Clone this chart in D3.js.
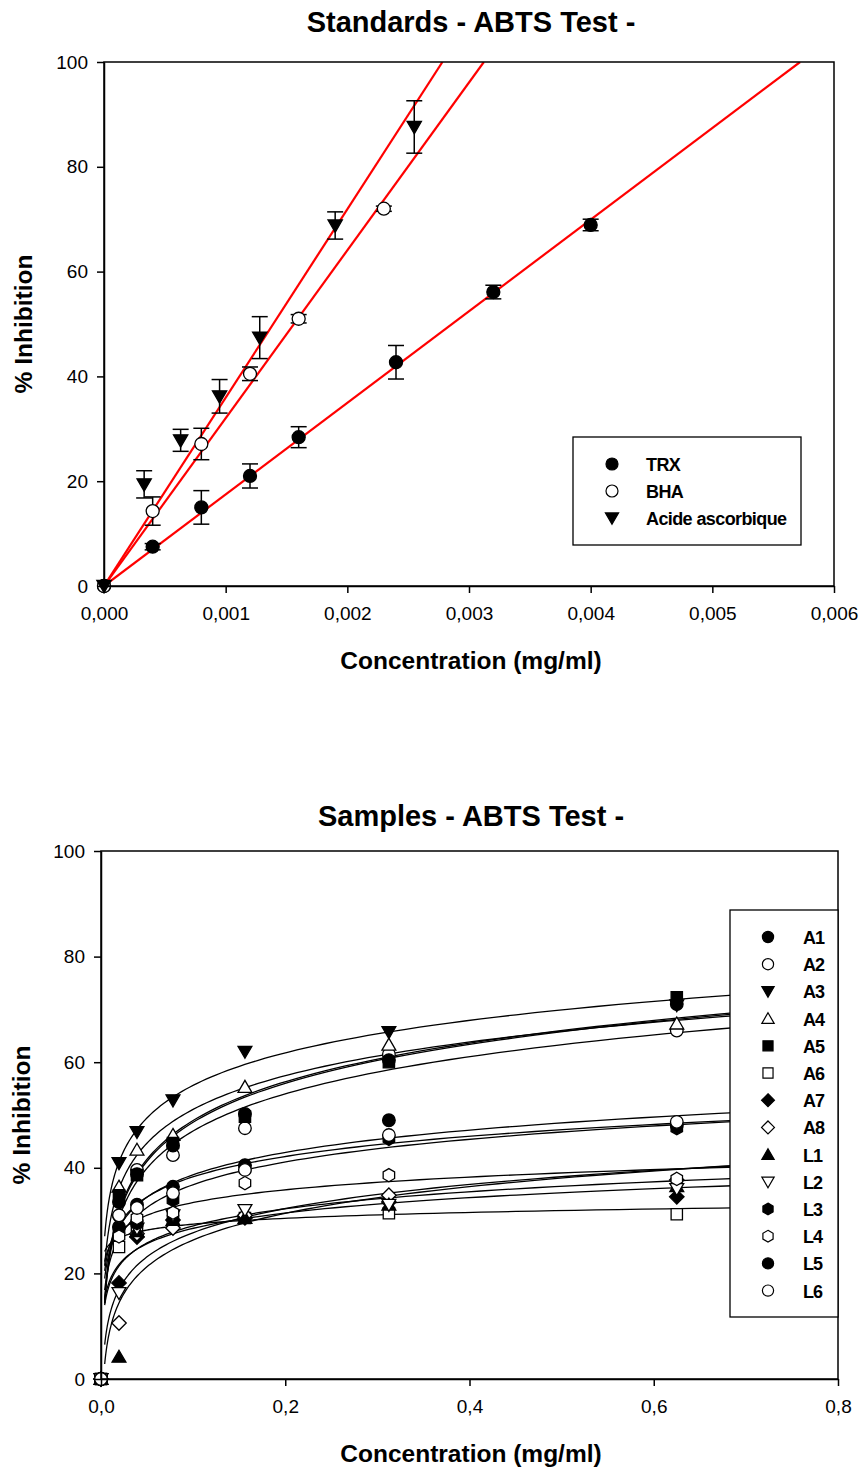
<!DOCTYPE html>
<html>
<head>
<meta charset="utf-8">
<script src="https://cdn.jsdelivr.net/npm/d3@7"></script>
<style>
  body { margin: 0; background: #fff; }
  svg { display: block; font-family: Arial, "Liberation Sans", sans-serif; }
</style>
</head>
<body>
<svg id="chart" width="864" height="1469"></svg>
<script>
// ---------- Standards (ABTS) ----------
const stdNames = ["TRX", "BHA", "Acide ascorbique"];
const trxConc = [0, 0.0004, 0.0008, 0.0012, 0.0016, 0.0024, 0.0032, 0.0040];
const trxInh  = [0, 7.5, 15.0, 21.0, 28.4, 42.7, 56.1, 68.9];
const trxErr  = [0, 0.6, 3.2, 2.3, 2.0, 3.2, 1.3, 1.1];
const bhaConc = [0, 0.0004, 0.0008, 0.0012, 0.0016, 0.0023];
const bhaInh  = [0, 14.3, 27.1, 40.5, 51.0, 72.0];
const bhaErr  = [0, 2.7, 3.0, 1.3, 0.8, 0.5];
const ascConc = [0, 0.00033, 0.00063, 0.00095, 0.00128, 0.0019, 0.00255];
const ascInh  = [0, 19.4, 27.8, 36.2, 47.4, 68.8, 87.6];
const ascErr  = [0, 2.6, 2.1, 3.2, 4.0, 2.6, 5.0];
const stdTicksX = [0, 0.001, 0.002, 0.003, 0.004, 0.005, 0.006];
const ticksY = [0, 20, 40, 60, 80, 100];

// ---------- Samples (ABTS) ----------
const sampleConc = [0, 0.01953, 0.03906, 0.07813, 0.15625, 0.3125, 0.625];
const sampleNames = ["A1","A2","A3","A4","A5","A6","A7","A8","L1","L2","L3","L4","L5","L6"];
const A1 = [0, 28.8, 33.0, 36.4, 40.5, 49.0, 48.0];
const A2 = [0, 30.9, 39.6, 42.4, 47.5, 61.5, 66.0];
const A3 = [0, 40.9, 46.8, 52.8, 62.0, 65.7, 70.8];
const A4 = [0, 36.4, 43.4, 46.2, 55.3, 63.3, 67.3];
const A5 = [0, 34.8, 38.6, 44.7, 49.7, 60.0, 72.3];
const A6 = [0, 25.0, 29.0, 29.8, 30.5, 31.4, 31.2];
const A7 = [0, 18.2, 26.9, 30.1, 30.5, 33.5, 34.5];
const A8 = [0, 10.6, 27.5, 28.6, 31.0, 34.8, 37.7];
const L1 = [0, 4.2, 28.0, 30.1, 30.5, 33.0, 36.5];
const L2 = [0, 16.3, 28.5, 31.0, 32.0, 33.0, 36.0];
const L3 = [0, 28.2, 29.5, 33.9, 39.9, 45.5, 47.5];
const L4 = [0, 27.0, 30.5, 31.5, 37.1, 38.6, 37.9];
const L5 = [0, 33.5, 38.8, 44.2, 50.2, 60.4, 71.0];
const L6 = [0, 31.0, 32.4, 35.2, 39.6, 46.2, 48.7];
const sampleValues = [A1, A2, A3, A4, A5, A6, A7, A8, L1, L2, L3, L4, L5, L6];
const sampleTicksX = [0, 0.2, 0.4, 0.6, 0.8];

// ---------- marker shapes ----------
function shapePath(kind, s) {
  const p = d3.path();
  switch (kind) {
    case "circle": p.arc(0, 0, s, 0, 2 * Math.PI); break;
    case "square": p.rect(-s * 0.9, -s * 0.9, s * 1.8, s * 1.8); break;
    case "diamond":
      p.moveTo(0, -s * 1.15); p.lineTo(s * 1.15, 0); p.lineTo(0, s * 1.15); p.lineTo(-s * 1.15, 0); p.closePath(); break;
    case "triUp":
      p.moveTo(0, -s * 1.05); p.lineTo(s * 1.1, s * 0.85); p.lineTo(-s * 1.1, s * 0.85); p.closePath(); break;
    case "triDown":
      p.moveTo(0, s * 1.05); p.lineTo(s * 1.1, -s * 0.85); p.lineTo(-s * 1.1, -s * 0.85); p.closePath(); break;
    case "hex":
      for (let i = 0; i < 6; i++) {
        const ang = -Math.PI / 2 + i * Math.PI / 3;
        const x = s * 1.05 * Math.cos(ang), y = s * 1.05 * Math.sin(ang);
        if (i === 0) p.moveTo(x, y); else p.lineTo(x, y);
      }
      p.closePath(); break;
  }
  return p.toString();
}
const sampleStyle = [
  ["circle", true], ["circle", false], ["triDown", true], ["triUp", false],
  ["square", true], ["square", false], ["diamond", true], ["diamond", false],
  ["triUp", true], ["triDown", false], ["hex", true], ["hex", false],
  ["circle", true], ["circle", false]
];

const comma = f => v => d3.format(f)(v).replace(".", ",");
const svg = d3.select("#chart");

function frame(g, x, y, xTicks, yTicks, xFmt) {
  const [x0, x1] = x.range(), [y0, y1] = y.range();
  g.append("rect").attr("x", x0).attr("y", y1).attr("width", x1 - x0).attr("height", y0 - y1)
    .attr("fill", "none").attr("stroke", "#000").attr("stroke-width", 1.5);
  const xa = g.append("g").attr("transform", `translate(0,${y0})`)
    .call(d3.axisBottom(x).tickValues(xTicks).tickFormat(xFmt).tickSize(7).tickSizeOuter(0).tickPadding(14));
  const ya = g.append("g").attr("transform", `translate(${x0},0)`)
    .call(d3.axisLeft(y).tickValues(yTicks).tickSize(7).tickSizeOuter(0).tickPadding(9));
  [xa, ya].forEach(a => {
    a.select(".domain").attr("stroke-width", 1.5);
    a.selectAll(".tick line").attr("stroke-width", 1.5);
    a.selectAll(".tick text").attr("font-size", 19).attr("font-family", "Arial, 'Liberation Sans', sans-serif").attr("fill", "#000");
  });
}

function titles(title, tx, ty, xlab, xly, ylx, yly) {
  svg.append("text").attr("x", tx).attr("y", ty).attr("text-anchor", "middle")
    .attr("font-size", 29).attr("font-weight", "bold").text(title);
  svg.append("text").attr("x", tx).attr("y", xly).attr("text-anchor", "middle")
    .attr("font-size", 24.5).attr("font-weight", "bold").text(xlab);
  svg.append("text").attr("transform", `translate(${ylx},${yly}) rotate(-90)`).attr("text-anchor", "middle")
    .attr("font-size", 24.5).attr("font-weight", "bold").text("% Inhibition");
}

// ================= Standards chart =================
{
  const x = d3.scaleLinear().domain([0, 0.006]).range([104, 834]);
  const y = d3.scaleLinear().domain([0, 100]).range([586, 62]);
  const g = svg.append("g");
  titles("Standards - ABTS Test -", 471, 32, "Concentration (mg/ml)", 669, 32, 324);

  const clip = svg.append("clipPath").attr("id", "clipStd");
  clip.append("rect").attr("x", 104).attr("y", 62).attr("width", 730).attr("height", 524);

  const sets = [
    { c: trxConc, v: trxInh, e: trxErr, shape: "circle", fill: true },
    { c: bhaConc, v: bhaInh, e: bhaErr, shape: "circle", fill: false },
    { c: ascConc, v: ascInh, e: ascErr, shape: "triDown", fill: true }
  ];
  // regression lines through the origin
  sets.forEach(s => {
    const sxy = d3.sum(s.c, (c, i) => c * s.v[i]);
    const sxx = d3.sum(s.c, c => c * c);
    const k = sxy / sxx;
    const xEnd = 100 / k;
    g.append("line").attr("clip-path", "url(#clipStd)")
      .attr("x1", x(0)).attr("y1", y(0)).attr("x2", x(xEnd)).attr("y2", y(100))
      .attr("stroke", "#ff0000").attr("stroke-width", 2.2);
  });
  // error bars
  sets.forEach(s => {
    s.c.forEach((c, i) => {
      if (!s.e[i]) return;
      const cx = x(c), yt = y(s.v[i] + s.e[i]), yb = y(s.v[i] - s.e[i]);
      const eg = g.append("g").attr("stroke", "#000").attr("stroke-width", 1.5);
      eg.append("line").attr("x1", cx).attr("x2", cx).attr("y1", yt).attr("y2", yb);
      eg.append("line").attr("x1", cx - 8).attr("x2", cx + 8).attr("y1", yt).attr("y2", yt);
      eg.append("line").attr("x1", cx - 8).attr("x2", cx + 8).attr("y1", yb).attr("y2", yb);
    });
  });
  // markers
  sets.forEach(s => {
    g.selectAll(null).data(s.c).enter().append("path")
      .attr("transform", (c, i) => `translate(${x(c)},${y(s.v[i])})`)
      .attr("d", shapePath(s.shape, 6.5))
      .attr("fill", s.fill ? "#000" : "#fff").attr("stroke", "#000").attr("stroke-width", 1.3);
  });
  frame(g, x, y, stdTicksX, ticksY, comma(".3f"));

  // legend
  const lg = svg.append("g");
  lg.append("rect").attr("x", 573).attr("y", 437).attr("width", 228).attr("height", 108)
    .attr("fill", "#fff").attr("stroke", "#000").attr("stroke-width", 1.3);
  stdNames.forEach((n, i) => {
    const yy = 464 + i * 27;
    lg.append("path").attr("transform", `translate(612,${yy})`)
      .attr("d", shapePath(sets[i].shape, 6)).attr("fill", sets[i].fill ? "#000" : "#fff")
      .attr("stroke", "#000").attr("stroke-width", 1.2);
    lg.append("text").attr("x", 646).attr("y", yy + 7).attr("font-size", 18).attr("font-weight", "bold")
      .attr("letter-spacing", -0.6).text(n);
  });
}

// ================= Samples chart =================
{
  const x = d3.scaleLinear().domain([0, 0.8]).range([101, 838]);
  const y = d3.scaleLinear().domain([0, 100]).range([1379, 851]);
  const g = svg.append("g");
  titles("Samples - ABTS Test -", 471, 826, "Concentration (mg/ml)", 1462, 30, 1115);

  const clip = svg.append("clipPath").attr("id", "clipSmp");
  clip.append("rect").attr("x", 101).attr("y", 851).attr("width", 737).attr("height", 528);

  // logarithmic fits  y = a + b ln(x)
  const xs = d3.range(0, 121).map(i => 0.004 * Math.pow(0.8 / 0.004, i / 120));
  sampleValues.forEach(vals => {
    const pts = sampleConc.map((c, i) => [c, vals[i]]).filter(p => p[0] > 0);
    const lx = pts.map(p => Math.log(p[0])), ly = pts.map(p => p[1]);
    const mx = d3.mean(lx), my = d3.mean(ly);
    const b = d3.sum(lx, (v, i) => (v - mx) * (ly[i] - my)) / d3.sum(lx, v => (v - mx) ** 2);
    const a = my - b * mx;
    g.append("path").attr("clip-path", "url(#clipSmp)")
      .attr("d", d3.line().x(c => x(c)).y(c => y(a + b * Math.log(c)))(xs))
      .attr("fill", "none").attr("stroke", "#000").attr("stroke-width", 1.3);
  });
  // markers
  sampleValues.forEach((vals, k) => {
    const [shape, filled] = sampleStyle[k];
    g.selectAll(null).data(sampleConc).enter().append("path")
      .attr("transform", (c, i) => `translate(${x(c)},${y(vals[i])})`)
      .attr("d", shapePath(shape, 6.3))
      .attr("fill", filled ? "#000" : "#fff").attr("stroke", "#000").attr("stroke-width", 1.3);
  });
  frame(g, x, y, sampleTicksX, ticksY, comma(".1f"));

  // legend
  const lg = svg.append("g");
  lg.append("rect").attr("x", 730).attr("y", 910).attr("width", 108).attr("height", 407)
    .attr("fill", "#fff").attr("stroke", "#000").attr("stroke-width", 1.3);
  sampleNames.forEach((n, i) => {
    const yy = 937 + i * 27.2;
    const [shape, filled] = sampleStyle[i];
    lg.append("path").attr("transform", `translate(768,${yy})`)
      .attr("d", shapePath(shape, 5.6)).attr("fill", filled ? "#000" : "#fff")
      .attr("stroke", "#000").attr("stroke-width", 1.2);
    lg.append("text").attr("x", 803).attr("y", yy + 7).attr("font-size", 18).attr("font-weight", "bold")
      .attr("letter-spacing", -1).text(n);
  });
}
</script>
</body>
</html>
